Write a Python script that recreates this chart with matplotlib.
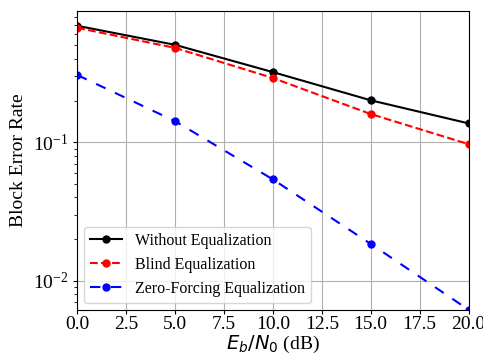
import numpy as np
import matplotlib.pyplot as plt

plt.rcParams['font.family'] = ['Liberation Serif', 'DejaVu Serif']

snr_db = [0, 5, 10, 15, 20]
bler_none = [0.693, 0.505, 0.321, 0.201, 0.137]
bler_blind = [0.67, 0.48, 0.291, 0.16, 0.097]
bler_zf = [0.306, 0.142, 0.054, 0.0185, 0.0062]

fig, ax = plt.subplots(figsize=(4.83, 3.58), dpi=100)

ax.semilogy(snr_db, bler_none, '-o', color='k', markersize=5, label='Without Equalization')
ax.semilogy(snr_db, bler_blind, '--o', color='r', markersize=5, label='Blind Equalization')
ax.semilogy(snr_db, bler_zf, 'o', color='b', linestyle=(0, (5, 5)), markersize=5,
            label='Zero-Forcing Equalization')

ax.set_xlim(0, 20)
ax.set_ylim(0.0062, 0.89)
ax.set_xticks(np.arange(0, 20.1, 2.5))
ax.xaxis.set_major_formatter(plt.FormatStrFormatter('%.1f'))
ax.grid(True, which='major', color='#b0b0b0', linewidth=0.8)
ax.set_xlabel(r'$E_b/N_0$ (dB)', fontsize=14, labelpad=1)
ax.set_ylabel('Block Error Rate', fontsize=14)
ax.tick_params(labelsize=14, length=3)
ax.tick_params(axis='x', pad=1.5)
ax.legend(loc='lower left', fontsize=11.5, borderaxespad=0.4)

plt.subplots_adjust(left=0.16, right=0.97, bottom=0.135, top=0.97)
plt.savefig('out.png')
